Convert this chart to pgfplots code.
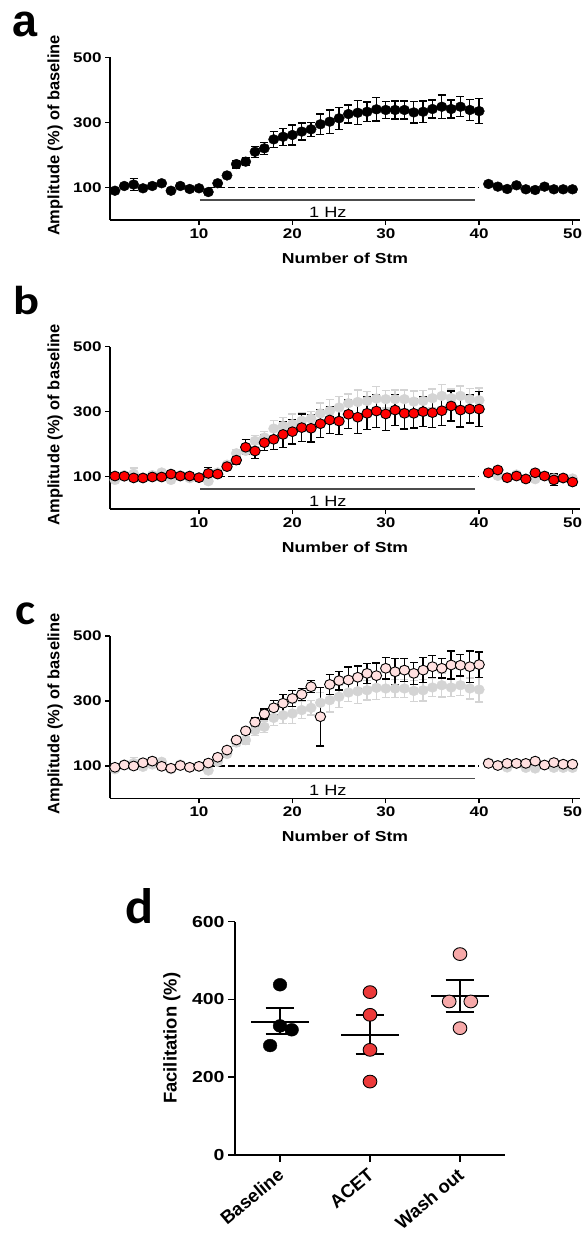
\documentclass[border=0pt]{standalone}
\usepackage{pgfplots}
\pgfplotsset{compat=1.18}
\usepackage{pgfplotstable}
\usepackage{graphicx}
\usepackage{fontspec}
\setmainfont{Liberation Sans}
\newfontfamily\wfont{Liberation Sans}[FakeStretch=1.22]
\newfontfamily\panelfont{Carlito}

\definecolor{lgrey}{RGB}{212,212,212}
\definecolor{pinkc}{RGB}{255,224,224}
\definecolor{acetred}{RGB}{236,58,58}
\definecolor{washpink}{RGB}{246,168,168}

\pgfplotstableread{
n y e
1 90 6
2 104.6 6
3 109 18
4 97.5 6
5 104.6 6
6 113 6
7 90 6
8 104.6 6
9 95.4 6
10 97.5 6
11 86 6
12 113 6
13 137 8
14 172 12
15 179.5 12
16 210 17
17 220.5 18
18 248 24
19 256 26
20 261.5 31
21 272 26
22 279 22
23 294.5 32
24 302.5 36
25 313 34
26 326 28
27 330 37
28 333 30
29 340.5 36
30 338.5 27
31 338.5 28
32 338.5 28
33 331 33
34 333 33
35 341.5 28
36 348.5 36
37 341.5 28
38 348.5 31
39 338.5 32
40 335 38
41 110.8 5
42 102.6 5
43 95.4 5
44 106.7 5
45 94.4 5
46 92.3 5
47 102.6 5
48 94.4 5
49 94.4 5
50 94.4 5
}\dataA

\pgfplotstableread{
n y e
1 102 6
2 101.4 6
3 96.2 6
4 96 6
5 99 6
6 99 6
7 108 6
8 102 6
9 102 6
10 97 6
11 110 18
12 108 6
13 131 6
14 151 12
15 190.5 23
16 179 23
17 204.6 25
18 215 31
19 230 40
20 238.5 38
21 251 42
22 249 42
23 263 43
24 274.5 42
25 271 42
26 292 44
27 283 50
28 295 50
29 302 50
30 293 50
31 305 48
32 295 48
33 295 45
34 300 45
35 297 45
36 303 45
37 317.5 46
38 305 52
39 308 43
40 308 54
41 112 6
42 120.6 6
43 97 6
44 102 6
45 92.9 6
46 112 6
47 102 6
48 90 18
49 96 6
50 83.7 6
}\dataB

\pgfplotstableread{
n y e
1 96 5
2 103 5
3 100 5
4 110 5
5 115 5
6 99 5
7 93 5
8 101.5 5
9 96 5
10 99 5
11 109 5
12 126.8 5
13 149 5
14 180 8
15 208 10
16 235 15
17 260 15
18 279 22
19 293 28
20 308 24
21 320.5 18
22 344 18
23 251.8 90
24 351 30
25 362.6 29
26 364.6 40
27 373 35
28 385 31
29 378 39
30 400.6 33
31 390 40
32 395 35
33 385 34
34 395 39
35 405.6 34
36 400.6 30
37 410.8 43
38 410 33
39 405.6 48
40 412 39
41 108 5
42 101.5 5
43 108 5
44 108 5
45 108 5
46 115 5
47 103 5
48 110.6 5
49 105.5 5
50 105.5 5
}\dataC

\pgfplotsset{
  stmaxis/.style={
    scale only axis, width=470bp, height=162.5bp,
    xmin=0.47, xmax=50.8, ymin=0, ymax=500,
    axis lines=left, axis line style={-, line width=1.6bp, black},
    xtick={10,20,30,40,50}, ytick={100,300,500},
    tick align=outside, major tick length=5bp,
    every tick/.style={line width=1.4bp, black},
    /pgf/number format/assume math mode=true,
    tick label style={font=\wfont\bfseries\fontsize{14}{14}\selectfont},
    xlabel={Number of Stm}, ylabel={Amplitude (\%) of baseline},
    xlabel style={font=\wfont\bfseries\fontsize{14.5}{14.5}\selectfont,
      at={(axis description cs:0.5,-0.234)}, anchor=center},
    ylabel style={font=\bfseries\fontsize{16.5}{16.5}\selectfont,
      at={(axis description cs:-0.117,0.52)}, anchor=center},
    clip=false,
  },
  errp/.style={only marks, mark=*, mark size=4.9bp,
    error bars/y dir=both, error bars/y explicit,
    error bars/error bar style={line width=1.3bp},
    error bars/error mark options={rotate=90, mark size=4bp, line width=1.3bp}},
}

\newcommand{\stimdecor}{%
  \addplot[black, line width=1.5bp, dash pattern=on 6.5bp off 3.5bp] coordinates {(11,100) (40,100)};
  \addplot[black!70, line width=1.5bp] coordinates {(10.1,62) (39.6,62)};
  \node[font=\wfont\fontsize{15}{15}\selectfont] at (axis cs:23.8,24) {1 Hz};
}

\begin{document}
\begin{tikzpicture}
\useasboundingbox (0,0) rectangle (585bp,1234bp);

% panel a
\begin{axis}[stmaxis, at={(110bp,1014bp)}, anchor=south west]
\stimdecor
\addplot[errp, black, mark options={fill=black, draw=black, xscale=1.06}] table[x=n, y=y, y error=e] {\dataA};
\end{axis}

% panel b
\begin{axis}[stmaxis, at={(110bp,724.8bp)}, anchor=south west]
\stimdecor
\addplot[errp, lgrey, mark options={fill=lgrey, draw=lgrey, xscale=1.06}] table[x=n, y=y, y error=e] {\dataA};
\addplot[errp, black, mark options={fill=red, draw=black, line width=0.9bp, xscale=1.06}] table[x=n, y=y, y error=e] {\dataB};
\end{axis}

% panel c
\begin{axis}[stmaxis, at={(110bp,435.5bp)}, anchor=south west]
\stimdecor
\addplot[errp, lgrey, mark options={fill=lgrey, draw=lgrey, xscale=1.06}] table[x=n, y=y, y error=e] {\dataA};
\addplot[errp, black, mark options={fill=pinkc, draw=black, line width=0.9bp, xscale=1.06}] table[x=n, y=y, y error=e] {\dataC};
\end{axis}

% panel d
\begin{axis}[
  at={(235bp,79bp)}, anchor=south west,
  scale only axis, width=270bp, height=233.3bp,
  xmin=-0.5, xmax=2.5, ymin=0, ymax=600,
  axis lines=left, axis line style={-, line width=1.6bp, black},
  xtick={0,1,2}, ytick={0,200,400,600},
  xticklabels={Baseline,ACET,Wash out},
  tick align=outside, major tick length=7bp,
  every tick/.style={line width=1.5bp, black},
  /pgf/number format/assume math mode=true,
  yticklabel style={font=\wfont\bfseries\fontsize{16}{16}\selectfont},
  xticklabel style={font=\bfseries\fontsize{18.5}{18.5}\selectfont, xshift=1bp, yshift=-10bp, rotate=40, anchor=east, inner sep=0pt},
  ylabel={Facilitation (\%)},
  ylabel style={font=\bfseries\fontsize{18.5}{18.5}\selectfont,
    at={(axis description cs:-0.234,0.5)}, anchor=center},
  clip=false,
]
\addplot[only marks, mark=*, mark size=6.4bp, mark options={fill=black, draw=black, xscale=1.07}] coordinates {(0,437.8) (0,332) (0.13,322) (-0.11,281.5)};
\addplot[only marks, mark=*, mark size=6.4bp, mark options={fill=acetred, draw=black, line width=0.9bp, xscale=1.07}] coordinates {(1,418.9) (1,360.5) (1,270.4) (1,188.8)};
\addplot[only marks, mark=*, mark size=6.4bp, mark options={fill=washpink, draw=black, line width=0.9bp, xscale=1.07}] coordinates {(2,516.7) (1.88,394.8) (2.12,394.8) (2,326.2)};
% mean and SEM
\addplot[black, line width=2bp] coordinates {(-0.32,343) (0.32,343)};
\addplot[black, line width=2bp] coordinates {(0,311.6) (0,379)};
\addplot[black, line width=2bp] coordinates {(-0.16,379) (0.16,379)};
\addplot[black, line width=2bp] coordinates {(-0.16,311.6) (0.16,311.6)};
\addplot[black, line width=2bp] coordinates {(0.68,309) (1.32,309)};
\addplot[black, line width=2bp] coordinates {(1,259) (1,360.5)};
\addplot[black, line width=2bp] coordinates {(0.84,360.5) (1.16,360.5)};
\addplot[black, line width=2bp] coordinates {(0.84,259) (1.16,259)};
\addplot[black, line width=2bp] coordinates {(1.68,409) (2.32,409)};
\addplot[black, line width=2bp] coordinates {(2,369) (2,449)};
\addplot[black, line width=2bp] coordinates {(1.84,449) (2.16,449)};
\addplot[black, line width=2bp] coordinates {(1.84,369) (2.16,369)};
\end{axis}

% panel letters
\node[inner sep=0pt] at (25bp,1210bp) {\resizebox{25bp}{24.5bp}{\bfseries a}};
\node[inner sep=0pt] at (26.7bp,933bp) {\resizebox{26bp}{28.3bp}{\panelfont\bfseries b}};
\node[inner sep=0pt] at (25.8bp,620bp) {\resizebox{20bp}{21.7bp}{\panelfont\bfseries c}};
\node[inner sep=0pt] at (139.2bp,328bp) {\resizebox{28bp}{35bp}{\panelfont\bfseries d}};
\end{tikzpicture}
\end{document}
